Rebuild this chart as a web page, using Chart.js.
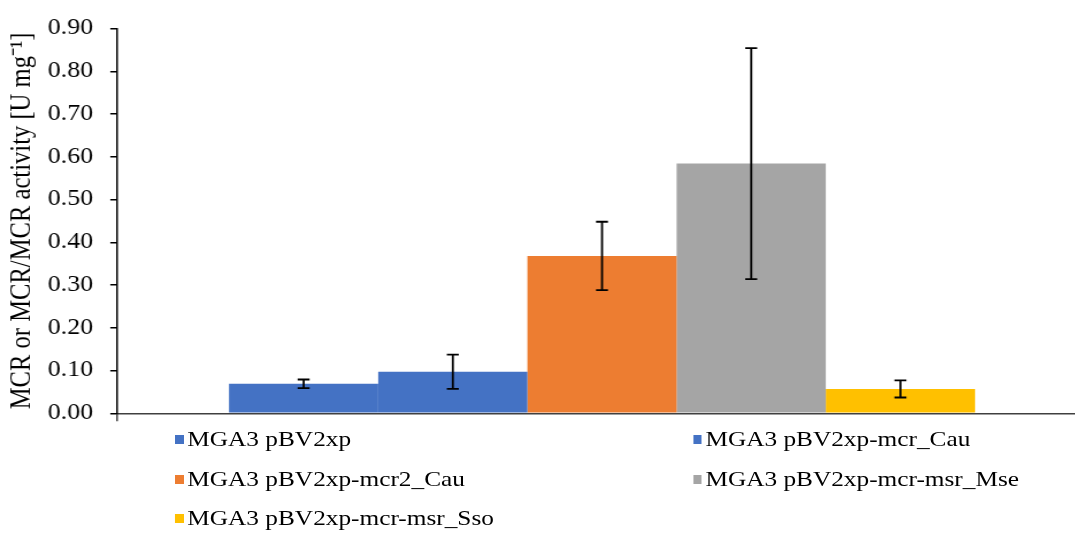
<!DOCTYPE html>
<html>
<head>
<meta charset="utf-8">
<script src="https://cdn.jsdelivr.net/npm/chart.js@4/dist/chart.umd.min.js"></script>
<style>
  html, body { margin: 0; padding: 0; background: #fff; width: 1075px; height: 533px; overflow: hidden; }
  #wrap { position: absolute; left: 0; top: 0; width: 949px; height: 533px; transform: scaleX(1.15); transform-origin: 0 0; }
  #chart { position: absolute; left: 0; top: 0; }
  .lg-item { position: absolute; display: flex; align-items: center; height: 30px; white-space: nowrap;
             font-family: "Liberation Serif", "Times New Roman", serif; font-size: 22px; color: #000; }
  .lg-box { width: 7.8px; height: 9px; margin-right: 3px; flex: none; }
</style>
</head>
<body>
<div id="wrap">
  <canvas id="chart" width="949" height="533" style="width:949px;height:533px"></canvas>
  <div id="legend"></div>
</div>
<script>
// Strain / construct names, one bar each
const seriesNames = [
  'MGA3 pBV2xp',
  'MGA3 pBV2xp-mcr_Cau',
  'MGA3 pBV2xp-mcr2_Cau',
  'MGA3 pBV2xp-mcr-msr_Mse',
  'MGA3 pBV2xp-mcr-msr_Sso'
];
// Specific activity [U mg-1] and its standard deviation
const activity = [0.069, 0.097, 0.368, 0.584, 0.057];
const activitySd = [0.010, 0.040, 0.080, 0.270, 0.020];
const barColors = ['#4472C4', '#4472C4', '#ED7D31', '#A5A5A5', '#FFC000'];
const categories = [''];
const yTicks = [0, 0.1, 0.2, 0.3, 0.4, 0.5, 0.6, 0.7, 0.8, 0.9];

const serif = '"Liberation Serif", "Times New Roman", serif';

// Draws ± standard deviation whiskers on each bar
const errorBars = {
  id: 'errorBars',
  afterDatasetsDraw(chart) {
    const ctx = chart.ctx;
    const y = chart.scales.y;
    ctx.save();
    ctx.strokeStyle = '#000';
    ctx.lineWidth = 1.8;
    chart.data.datasets.forEach((ds, i) => {
      const meta = chart.getDatasetMeta(i);
      meta.data.forEach((bar, j) => {
        const v = ds.data[j];
        const e = ds.sd[j];
        const top = y.getPixelForValue(v + e);
        const bot = y.getPixelForValue(v - e);
        const x = bar.x;
        const hw = 5.2;
        ctx.beginPath();
        ctx.moveTo(x, top); ctx.lineTo(x, bot);
        ctx.moveTo(x - hw, top); ctx.lineTo(x + hw, top);
        ctx.moveTo(x - hw, bot); ctx.lineTo(x + hw, bot);
        ctx.stroke();
      });
    });
    ctx.restore();
  }
};

const chart = new Chart(document.getElementById('chart'), {
  type: 'bar',
  data: {
    labels: categories,
    datasets: seriesNames.map((name, i) => ({
      label: name,
      data: [activity[i]],
      sd: [activitySd[i]],
      backgroundColor: barColors[i],
      borderWidth: 0
    }))
  },
  options: {
    responsive: false,
    animation: false,
    devicePixelRatio: 1,
    categoryPercentage: 0.7695,
    barPercentage: 1,
    layout: { padding: { left: 0, top: 25, right: 4, bottom: 109.7 } },
    plugins: {
      legend: { display: false },
      tooltip: { enabled: false }
    },
    scales: {
      x: {
        type: 'category',
        offset: true,
        grid: { display: true, drawOnChartArea: false, drawTicks: true, tickLength: 8, color: '#404040', lineWidth: 1.5, offset: true },
        border: { display: true, color: '#404040', width: 1.5 },
        ticks: { display: false },
        afterFit(s) { s.height = 10; }
      },
      y: {
        min: 0,
        max: 0.9,
        afterBuildTicks(s) { s.ticks = yTicks.map(v => ({ value: v })); },
        ticks: {
          callback: v => Number(v).toFixed(2),
          font: { family: serif, size: 22.5 },
          color: '#000',
          padding: 15
        },
        grid: { drawOnChartArea: false, drawTicks: true, tickLength: 6.1, color: '#000', lineWidth: 1.5 },
        border: { display: true, color: '#000', width: 1.5 },
        title: {
          display: true,
          text: 'MCR or MCR/MCR activity [U mg⁻¹]',
          font: { family: serif, size: 24.6 },
          color: '#000',
          padding: { top: 5, bottom: 0 }
        },
        afterFit(s) { s.width = 102; }
      }
    }
  },
  plugins: [errorBars]
});

// Two-column legend below the plot
const legend = document.getElementById('legend');
const colX = [152.1, 602.6];
const rowY = [439, 479, 518];
chart.data.datasets.forEach((ds, i) => {
  const item = document.createElement('div');
  item.className = 'lg-item';
  item.style.left = colX[i % 2] + 'px';
  item.style.top = (rowY[Math.floor(i / 2)] - 15) + 'px';
  const box = document.createElement('span');
  box.className = 'lg-box';
  box.style.background = ds.backgroundColor;
  const txt = document.createElement('span');
  txt.textContent = ds.label;
  item.appendChild(box);
  item.appendChild(txt);
  legend.appendChild(item);
});
</script>
</body>
</html>
